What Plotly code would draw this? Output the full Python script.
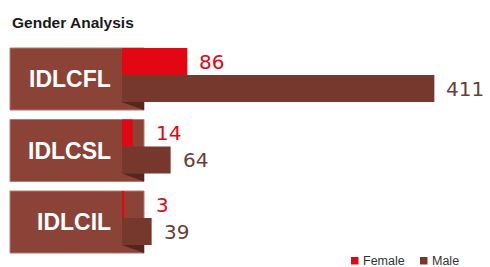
import plotly.graph_objects as go

# ---- data ----
categories = ["IDLCFL", "IDLCSL", "IDLCIL"]
female = [86, 14, 3]
male = [411, 64, 39]
series_names = ["Female", "Male"]
title_text = "Gender Analysis"

# ---- style ----
W, H = 490, 267
RED = "#e30613"
MALE = "#76382d"
BOX = "#8b4337"
BOX_EDGE = "#b57a70"
FOLD = "#56251d"
MALE_TXT = "#6b3d35"

K = 0.76            # px per unit
ZERO_PX = 122       # pixel of value 0
UNIT_PX = 71.5      # px per category
GROUP0_CENTER_PX = 75
BAR_HALF = 0.3775   # half of group height in category units
BOX_LEFT = (10 - ZERO_PX) / K
BOX_RIGHT = (144 - ZERO_PX) / K
BOX_BOTTOM = 0.49   # below group center

x_range = [-ZERO_PX / K, (W - ZERO_PX) / K]
top_u = -0.5 - (GROUP0_CENTER_PX - UNIT_PX / 2) / UNIT_PX
bot_u = top_u + H / UNIT_PX

fig = go.Figure()
fig.add_trace(go.Bar(y=categories, x=female, orientation="h", name=series_names[0],
                     marker=dict(color=RED, line=dict(width=0)), showlegend=False))
fig.add_trace(go.Bar(y=categories, x=male, orientation="h", name=series_names[1],
                     marker=dict(color=MALE, line=dict(width=0)), showlegend=False))

shapes = []
annotations = []
for i, cat in enumerate(categories):
    shapes.append(dict(type="rect", xref="x", yref="y", layer="below",
                       x0=BOX_LEFT, x1=BOX_RIGHT, y0=i - BAR_HALF, y1=i + BOX_BOTTOM,
                       fillcolor=BOX, line=dict(color=BOX_EDGE, width=1)))
    shapes.append(dict(type="path", xref="x", yref="y", layer="above",
                       path=f"M0,{i + BAR_HALF} L{BOX_RIGHT},{i + BAR_HALF} L{BOX_RIGHT},{i + BOX_BOTTOM} Z",
                       fillcolor=FOLD, line=dict(width=0)))
    annotations.append(dict(x=0, y=i + (BOX_BOTTOM - BAR_HALF) / 2, xref="x", yref="y",
                            text=f"<b>{cat}</b>", showarrow=False, xanchor="right", xshift=-10,
                            font=dict(family="Liberation Sans, Arial, sans-serif", size=23, color="white"),
                            borderpad=0))
    annotations.append(dict(x=max(female[i], BOX_RIGHT), y=i - BAR_HALF / 2, xref="x", yref="y",
                            text=str(female[i]), showarrow=False, xanchor="left", xshift=11,
                            font=dict(family="DejaVu Sans", size=20, color=RED), borderpad=0))
    annotations.append(dict(x=max(male[i], BOX_RIGHT), y=i + BAR_HALF / 2, xref="x", yref="y",
                            text=str(male[i]), showarrow=False, xanchor="left", xshift=11,
                            font=dict(family="DejaVu Sans", size=20, color=MALE_TXT), borderpad=0))

# title
annotations.append(dict(x=10 / W, y=1 - 22.5 / H, xref="paper", yref="paper", text=f"<b>{title_text}</b>",
                        showarrow=False, xanchor="left", yanchor="middle",
                        font=dict(family="Liberation Sans, Arial, sans-serif", size=15.5, color="#1a1a1a")))

# legend (manual)
leg = [(351, series_names[0], RED), (420, series_names[1], MALE)]
for px, name, col in leg:
    shapes.append(dict(type="rect", xref="paper", yref="paper",
                       x0=px / W, x1=(px + 7.5) / W, y0=1 - 264.5 / H, y1=1 - 257 / H,
                       fillcolor=col, line=dict(width=0)))
    annotations.append(dict(x=(px + 11) / W, y=1 - 260.5 / H, xref="paper", yref="paper", text=name,
                            showarrow=False, xanchor="left", yanchor="middle", borderpad=0,
                            font=dict(family="Liberation Sans, Arial, sans-serif", size=12.5, color="#333333")))

fig.update_layout(
    width=W, height=H, autosize=False,
    margin=dict(l=0, r=0, t=0, b=0),
    barmode="group", bargap=1 - 2 * BAR_HALF, bargroupgap=0,
    paper_bgcolor="white", plot_bgcolor="rgba(0,0,0,0)",
    xaxis=dict(range=x_range, visible=False, fixedrange=True),
    yaxis=dict(range=[bot_u, top_u], visible=False, type="category",
               categoryorder="array", categoryarray=categories, fixedrange=True),
    shapes=shapes, annotations=annotations, showlegend=False,
)

fig.write_html("out.html", config={"displayModeBar": False},
               post_script="document.body.style.margin='0';document.body.style.overflow='hidden';")
